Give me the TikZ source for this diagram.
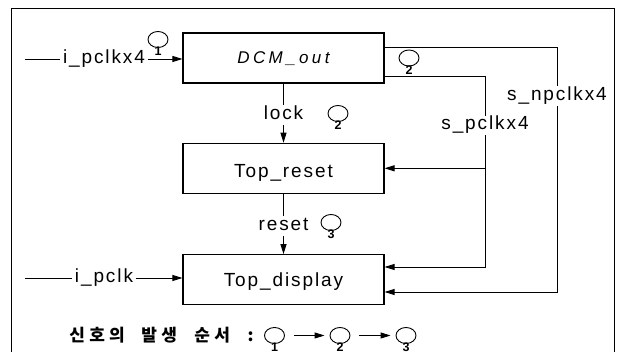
\documentclass[tikz,border=0pt]{standalone}
\usepackage{fontspec}
\setmainfont{Liberation Sans}
\newfontfamily\lsfont[LetterSpace=10]{Liberation Sans}
\newfontfamily\dcmfont[LetterSpace=20]{Liberation Sans}
\newfontfamily\krfont[LetterSpace=25]{Noto Sans CJK KR}
\usetikzlibrary{arrows.meta,shapes.geometric,calc}
\newcommand\seqmark[4]{%
  \node[seqc] (#1) at (#2,#3) {};
  \node[seqd, anchor=north] (#1n) at ($(#1.south)+(0,-1.5)$) {#4};
}
\begin{document}
\begin{tikzpicture}[x=1pt,y=-1pt,line width=0.9pt,
  blk/.style={draw, line width=1.1pt, minimum width=201pt, minimum height=50pt,
    inner sep=0pt, text depth=0pt, font=\lsfont\fontsize{19}{22}\selectfont},
  lbl/.style={inner xsep=2.5pt, inner ysep=1pt, text height=13pt, text depth=4pt,
    font=\lsfont\fontsize{19}{22}\selectfont},
  arr/.style={-{Triangle[length=10pt,width=6pt]}},
  seqc/.style={ellipse, draw, line width=0.9pt, minimum width=20pt, minimum height=16pt, inner sep=0pt},
  seqd/.style={inner sep=0pt, font=\fontsize{12.5}{13}\selectfont\bfseries},
  kr/.style={inner sep=0pt, font=\krfont\fontsize{17}{20}\selectfont\bfseries}]
\path[use as bounding box, clip] (0,0) rectangle (622,352);
% frame
\draw[line width=1pt] (11,9) rectangle (614,372);
% blocks
\node[blk, text height=10.6pt, font=\dcmfont\fontsize{17}{20}\selectfont\itshape] (dcm) at (283.5,58) {DCM\_out};
\node[blk, text height=19pt] (rst) at (283.5,168.3) {Top\_reset};
\node[blk, text height=14pt] (disp) at (283.5,279.7) {Top\_display};
% inputs
\coordinate (in1) at (25,59);
\node[lbl] (l1) at (104,59) {i\_pclkx4};
\draw[arr] (in1) -- (l1) -- (dcm.west |- in1);
\coordinate (in2) at (25,278);
\node[lbl] (l2) at (104,278) {i\_pclk};
\draw[arr] (in2) -- (l2) -- (disp.west |- in2);
% lock, reset
\node[lbl] (lk) at (283.5,115) {lock};
\draw[arr] (dcm) -- (lk) -- (rst);
\node[lbl] (rs) at (283.5,226) {reset};
\draw[arr] (rst) -- (rs) -- (disp);
% s_npclkx4
\coordinate (sn1) at (557,47);
\coordinate (sn2) at (557,292);
\node[lbl] (snl) at (557,96) {s\_npclkx4};
\draw[arr] (dcm.east |- sn1) -- (sn1) -- (snl) -- (sn2) -- (disp.east |- sn2);
% s_pclkx4
\coordinate (sp1) at (485,76);
\coordinate (sp2) at (485,267);
\node[lbl] (spl) at (485,125.5) {s\_pclkx4};
\draw[arr] (dcm.east |- sp1) -- (sp1) -- (spl) -- (sp2) -- (disp.east |- sp2);
\draw[arr] (sp1 |- rst.east) -- (rst.east);
% sequence marks
\seqmark{m1}{158}{39.5}{1}
\seqmark{m2}{338}{113.5}{2}
\seqmark{m3}{409}{58}{2}
\seqmark{m4}{331}{222.5}{3}
% legend
\node[kr, anchor=base west] (k1) at (69,341.5) {신호의};
\node[kr, anchor=base west] (k2) at (141,341.5) {발생};
\node[kr, anchor=base west] (k3) at (194,341.5) {순서};
\node[kr, anchor=base] (k4) at (250.5,341.5) {:};
\seqmark{b1}{274.5}{335.5}{1}
\seqmark{b2}{340}{335.5}{2}
\seqmark{b3}{406}{335.5}{3}
\draw[arr, shorten <=9pt, shorten >=5pt] (b1) -- (b2);
\draw[arr, shorten <=9pt, shorten >=5pt] (b2) -- (b3);
\end{tikzpicture}
\end{document}
